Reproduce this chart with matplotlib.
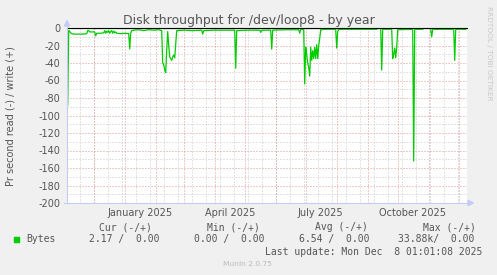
import matplotlib
matplotlib.use('Agg')
import matplotlib.pyplot as plt
import pandas as pd
from matplotlib.lines import Line2D
from matplotlib.patches import Polygon, Rectangle

## DATA ##
read_dates = ['2024-11-05', '2024-11-06', '2024-11-07', '2024-11-08', '2024-11-09', '2024-11-12',
              '2024-11-16', '2024-11-20', '2024-11-24', '2024-11-25', '2024-11-26', '2024-11-27',
              '2024-12-02', '2024-12-03', '2024-12-04', '2024-12-08', '2024-12-11', '2024-12-12',
              '2024-12-13', '2024-12-14', '2024-12-15', '2024-12-16', '2024-12-17', '2024-12-18',
              '2024-12-19', '2024-12-20', '2024-12-21', '2024-12-22', '2024-12-23', '2024-12-24',
              '2024-12-28', '2025-01-01', '2025-01-05', '2025-01-06', '2025-01-07', '2025-01-08',
              '2025-01-10', '2025-01-15', '2025-01-20', '2025-01-25', '2025-01-30', '2025-02-04',
              '2025-02-07', '2025-02-08', '2025-02-09', '2025-02-10', '2025-02-11', '2025-02-12',
              '2025-02-13', '2025-02-14', '2025-02-15', '2025-02-16', '2025-02-17', '2025-02-18',
              '2025-02-19', '2025-02-20', '2025-02-21', '2025-02-22', '2025-03-01', '2025-03-10',
              '2025-03-19', '2025-03-20', '2025-03-21', '2025-04-01', '2025-04-12', '2025-04-21',
              '2025-04-22', '2025-04-23', '2025-05-05', '2025-05-16', '2025-05-17', '2025-05-18',
              '2025-05-27', '2025-05-28', '2025-05-29', '2025-06-10', '2025-06-24', '2025-06-25',
              '2025-06-26', '2025-06-29', '2025-06-30', '2025-07-01', '2025-07-02', '2025-07-03',
              '2025-07-04', '2025-07-05', '2025-07-06', '2025-07-07', '2025-07-08', '2025-07-09',
              '2025-07-10', '2025-07-11', '2025-07-12', '2025-07-13', '2025-07-14', '2025-07-15',
              '2025-07-16', '2025-07-20', '2025-07-31', '2025-08-01', '2025-08-02', '2025-08-03',
              '2025-08-20', '2025-09-10', '2025-09-11', '2025-09-14', '2025-09-15', '2025-09-16',
              '2025-09-25', '2025-09-26', '2025-09-27', '2025-09-28', '2025-09-29', '2025-09-30',
              '2025-10-01', '2025-10-16', '2025-10-17', '2025-10-18', '2025-10-26', '2025-10-27',
              '2025-11-02', '2025-11-03', '2025-11-04', '2025-11-05', '2025-11-26', '2025-11-27',
              '2025-11-28', '2025-12-08']
read_vals = [-88, -3, -4, -5.5, -6.5, -7,
             -7, -7, -6.5, -3, -3, -4.5,
             -4.5, -9, -6, -6, -5.5, -3,
             -6, -3.5, -5, -3, -6, -4,
             -3, -6, -3.5, -5.5, -4.5, -6,
             -6.5, -6, -6.5, -24, -6, -3,
             -2.5, -2, -3, -2, -2.5, -2,
             -3, -40, -42, -48, -51, -25,
             -4, -20, -33, -35, -37, -33,
             -31, -34, -18, -3, -2.5, -3,
             -2.5, -7, -3, -2.5, -2.5, -2.5,
             -46, -3, -2.5, -2.5, -5, -2.5,
             -2.5, -24, -2.5, -2, -2, -6,
             -1.5, -1.5, -64, -22, -30, -40,
             -45, -55, -22, -37, -26, -35,
             -22, -35, -19, -35, -20, -12,
             -2, -1.5, -1.5, -23, -4, -1.5,
             -1.5, -1.5, 0, 0, -48, -1.5,
             -1.5, -35, -30, -23, -34, -22,
             -2, -1.5, -152, -1.5, -1.5, 0,
             0, -1.5, -10, -1.5, -1.5, -37,
             -1.5, -1.5]
write_dates = ['2024-11-05', '2025-12-08']
write_vals = [0.0, 0.0]

y_ticks = [0, -20, -40, -60, -80, -100, -120, -140, -160, -180, -200]
y_labels = ['0', '-20', '-40', '-60', '-80', '-100', '-120', '-140', '-160', '-180', '-200']
x_label_dates = ['2025-01-16', '2025-04-16', '2025-07-16', '2025-10-16']
x_labels = ['January 2025', 'April 2025', 'July 2025', 'October 2025']

legend_heads = ['Cur (-/+)', 'Min (-/+)', 'Avg (-/+)', 'Max (-/+)']
legend_vals = ['2.17 /  0.00', '0.00 /  0.00', '6.54 /  0.00', '33.88k/  0.00']

## LAYOUT ##
W, H = 497, 275
def fx(x):
    return x / W
def fy(y):
    return 1 - y / H

fig = plt.figure(figsize=(W / 100, H / 100), dpi=100, facecolor='#F0F0F0')
ax = fig.add_axes([fx(67), fy(203), 400 / W, 175 / H])
ax.set_facecolor('white')
for s in ax.spines.values():
    s.set_visible(False)

t0 = pd.Timestamp('2024-11-04 07:00')
t1 = t0 + pd.Timedelta(days=400)
ax.set_xlim(t0, t1)
ax.set_ylim(-200, 0)

# grid (dotted, like rrdtool)
dot = (0, (1, 2))
for d in pd.date_range('2024-11-17', t1, freq='14D'):
    ax.axvline(d, color='#c8c8c8', lw=0.72, ls=dot, zorder=1)
for v in range(-190, 0, 20):
    ax.axhline(v, color='#c8c8c8', lw=0.72, ls=dot, zorder=1)
for d in pd.date_range('2024-12-01', t1, freq='MS'):
    ax.axvline(d, color='#e29494', lw=0.72, ls=dot, zorder=2)
for v in y_ticks[1:]:
    ax.axhline(v, color='#e29494', lw=0.72, ls=dot, zorder=2)

ax.plot(pd.to_datetime(read_dates), read_vals, color='#00CC00', lw=0.9, zorder=3)
ax.plot(pd.to_datetime(write_dates), write_vals, color='#00CC00', lw=0.9, zorder=3)
ax.axhline(0, color='black', lw=0.8, zorder=4, clip_on=False)

ax.set_yticks(y_ticks, y_labels)
ax.tick_params(axis='y', length=0, pad=5, labelsize=7, labelcolor='#555555')
ax.set_xticks([])
for d, lab in zip(x_label_dates, x_labels):
    ax.text(pd.Timestamp(d), (203 - 215.5) / 175, lab, transform=ax.get_xaxis_transform(),
            ha='center', va='baseline', fontsize=7, color='#555555')

# axes lines + arrows
axc = '#C4CCF2'
fig.add_artist(Line2D([fx(67), fx(67)], [fy(203), fy(25)], color=axc, lw=0.8))
fig.add_artist(Line2D([fx(64), fx(469)], [fy(203), fy(203)], color=axc, lw=0.8))
fig.add_artist(Polygon([[fx(64.3), fy(26)], [fx(69.7), fy(26)], [fx(67), fy(20.5)]],
                       closed=True, color=axc, transform=fig.transFigure))
fig.add_artist(Polygon([[fx(468), fy(200.3)], [fx(468), fy(205.7)], [fx(473.5), fy(203)]],
                       closed=True, color=axc, transform=fig.transFigure))

## TEXT ##
fig.text(fx(248.8), fy(24), 'Disk throughput for /dev/loop8 - by year', ha='center',
         va='baseline', fontsize=9, color='#555555')
fig.text(fx(11), fy(116), 'Pr second read (-) / write (+)', rotation=90, ha='center',
         va='center', fontsize=7, color='#555555')
fig.text(fx(489), fy(53), 'RRDTOOL / TOBI OETIKER', rotation=270, ha='center', va='center',
         fontsize=5.3, color='#c8c8c8')

mono = 'DejaVu Sans Mono'
head_x = [98.7, 206.7, 315, 422.7]
val_x = [89.3, 194.3, 299.3, 398.3]
for x, t in zip(head_x, legend_heads):
    fig.text(fx(x), fy(230), t, family=mono, fontsize=7, color='#555555', va='baseline')
for x, t in zip(val_x, legend_vals):
    fig.text(fx(x), fy(242), t, family=mono, fontsize=7, color='#555555', va='baseline')
fig.add_artist(Rectangle((fx(14), fy(242)), 5.3 / W, 5.3 / H, color='#00CC00',
                         transform=fig.transFigure))
fig.text(fx(26.7), fy(242), 'Bytes', family=mono, fontsize=7, color='#555555', va='baseline')
fig.text(fx(482.3), fy(255), 'Last update: Mon Dec  8 01:01:08 2025', family=mono,
         fontsize=7, color='#555555', va='baseline', ha='right')
fig.text(fx(247.8), fy(266.5), 'Munin 2.0.75', ha='center', va='baseline', fontsize=5.4,
         color='#bbbbbb')

fig.savefig('out.png', dpi=100, facecolor=fig.get_facecolor())
